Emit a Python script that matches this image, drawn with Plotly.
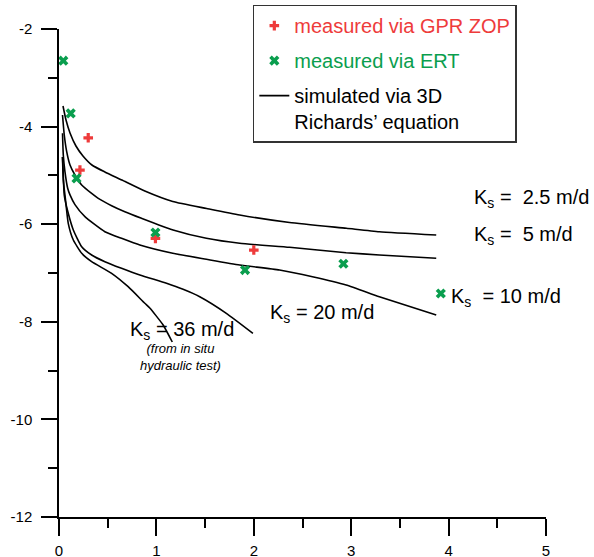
import plotly.graph_objects as go

# Measured wetting-front depths (x: time, y: depth)
gpr_x = [0.215, 0.30, 0.99, 2.00]
gpr_y = [-4.89, -4.23, -6.29, -6.53]
ert_x = [0.044, 0.12, 0.18, 0.99, 1.91, 2.92, 3.92]
ert_y = [-2.65, -3.73, -5.06, -6.17, -6.94, -6.81, -7.42]

# Axis ticks
x_ticks = [0, 1, 2, 3, 4, 5]
y_ticks = [-12, -10, -8, -6, -4, -2]
y_tick_text = ["-12", "-10", "-8", "-6", "-4", "-2"]

# Simulated curves (3D Richards' equation) for several saturated conductivities
ks_labels = ["2.5", "5", "10", "20", "36"]
sim_x = {
    "2.5": [0.041, 0.072, 0.113, 0.174, 0.246, 0.338, 0.471, 0.645, 0.881, 1.168, 1.516, 1.855, 2.367, 2.951, 3.289, 3.873],
    "5":   [0.036, 0.054, 0.079, 0.113, 0.164, 0.233, 0.335, 0.403, 0.540, 0.676, 0.847, 1.171, 1.513, 1.855, 2.367, 2.948, 3.289, 3.873],
    "10":  [0.036, 0.044, 0.061, 0.089, 0.113, 0.164, 0.266, 0.471, 0.642, 0.830, 1.168, 1.513, 1.855, 2.264, 2.602, 2.948, 3.289, 3.873],
    "20":  [0.036, 0.044, 0.054, 0.095, 0.147, 0.233, 0.335, 0.471, 0.642, 0.830, 1.104, 1.274, 1.445, 1.718, 1.991],
    "36":  [0.036, 0.044, 0.067, 0.095, 0.147, 0.233, 0.335, 0.540, 0.710, 0.881, 0.932, 1.069, 1.163],
}
sim_y = {
    "2.5": [-3.578, -3.865, -4.131, -4.398, -4.602, -4.787, -4.930, -5.094, -5.320, -5.535, -5.678, -5.811, -5.965, -6.084, -6.154, -6.221],
    "5":   [-3.762, -4.172, -4.514, -4.787, -4.992, -5.197, -5.370, -5.470, -5.620, -5.744, -5.879, -6.119, -6.289, -6.391, -6.473, -6.584, -6.631, -6.699],
    "10":  [-4.137, -4.582, -4.924, -5.264, -5.400, -5.600, -5.846, -6.154, -6.289, -6.426, -6.596, -6.719, -6.836, -6.939, -7.076, -7.246, -7.486, -7.861],
    "20":  [-4.623, -4.992, -5.402, -5.777, -6.119, -6.461, -6.631, -6.768, -6.904, -7.041, -7.211, -7.334, -7.486, -7.826, -8.236],
    "36":  [-4.623, -5.094, -5.504, -5.982, -6.324, -6.596, -6.768, -7.006, -7.281, -7.621, -7.717, -8.066, -8.414],
}

RED = "#EE3B3B"
GREEN = "#0A9E4E"
FONT = "Arial, Liberation Sans, sans-serif"

fig = go.Figure()

for i, k in enumerate(ks_labels):
    fig.add_trace(go.Scatter(
        x=sim_x[k], y=sim_y[k], mode="lines",
        line=dict(color="black", width=1.6, shape="spline", smoothing=0.5),
        name="simulated via 3D<br>Richards\u2019 equation",
        legendgroup="sim", showlegend=(i == 0), legendrank=3,
        cliponaxis=False, hoverinfo="skip",
    ))

fig.add_trace(go.Scatter(
    x=gpr_x, y=gpr_y, mode="markers",
    marker=dict(symbol="cross", size=8, color=RED, line=dict(width=0)),
    name=f"<span style='color:{RED}'>measured via GPR ZOP</span>",
    legendgroup="gpr", legendrank=1, cliponaxis=False,
))
fig.add_trace(go.Scatter(
    x=ert_x, y=ert_y, mode="markers",
    marker=dict(symbol="x", size=9, color=GREEN, line=dict(width=0)),
    name=f"<span style='color:{GREEN}'>measured via ERT</span>",
    legendgroup="ert", legendrank=2, cliponaxis=False,
))

# Conductivity labels next to the curves
ks_text = {
    "2.5": ("K<sub>s</sub> =\u00a0 2.5 m/d", 4.24, -5.478),
    "5":   ("K<sub>s</sub> =\u00a0 5 m/d", 4.24, -6.236),
    "10":  ("K<sub>s</sub>\u00a0 = 10 m/d", 4.006, -7.508),
    "20":  ("K<sub>s</sub> = 20 m/d", 2.147, -7.820),
    "36":  ("K<sub>s</sub> = 36 m/d", 0.710, -8.168),
}
for k in ks_labels:
    txt, ax_, ay_ = ks_text[k]
    fig.add_annotation(x=ax_, y=ay_, xref="x", yref="y", text=txt,
                       showarrow=False, xanchor="left", yanchor="middle",
                       font=dict(family=FONT, size=20, color="black"))
fig.add_annotation(x=1.247, y=-8.73, xref="x", yref="y",
                   text="<i>(from in situ<br>hydraulic test)</i>",
                   showarrow=False, xanchor="center", yanchor="middle",
                   font=dict(family=FONT, size=13, color="black"))

fig.update_layout(
    width=594, height=557,
    margin=dict(l=59, r=48, t=29, b=40, autoexpand=False),
    paper_bgcolor="white", plot_bgcolor="white",
    font=dict(family=FONT, size=15, color="black"),
    showlegend=True,
    legend=dict(
        x=0.398, y=1.05, xanchor="left", yanchor="top",
        bgcolor="white", bordercolor="#333333", borderwidth=1.5,
        font=dict(family=FONT, size=20, color="black"),
        traceorder="grouped", tracegroupgap=6, valign="top",
    ),
    xaxis=dict(
        range=[0, 5], tickmode="array", tickvals=x_ticks,
        showline=True, linecolor="black", linewidth=1.5,
        ticks="outside", ticklen=17, tickwidth=1.5, tickcolor="black",
        minor=dict(dtick=0.5, ticks="outside", ticklen=9, tickwidth=1.5, tickcolor="black"),
        showgrid=False, zeroline=False, ticklabelstandoff=2,
        tickfont=dict(size=15), automargin=False,
    ),
    yaxis=dict(
        range=[-12, -2], tickmode="array", tickvals=y_ticks, ticktext=y_tick_text,
        showline=True, linecolor="black", linewidth=1.5,
        ticks="outside", ticklen=16, tickwidth=1.5, tickcolor="black",
        minor=dict(dtick=1, ticks="outside", ticklen=9, tickwidth=1.5, tickcolor="black"),
        showgrid=False, zeroline=False, ticklabelstandoff=6,
        tickfont=dict(size=15), automargin=False,
    ),
)

fig.write_html("out.html")
